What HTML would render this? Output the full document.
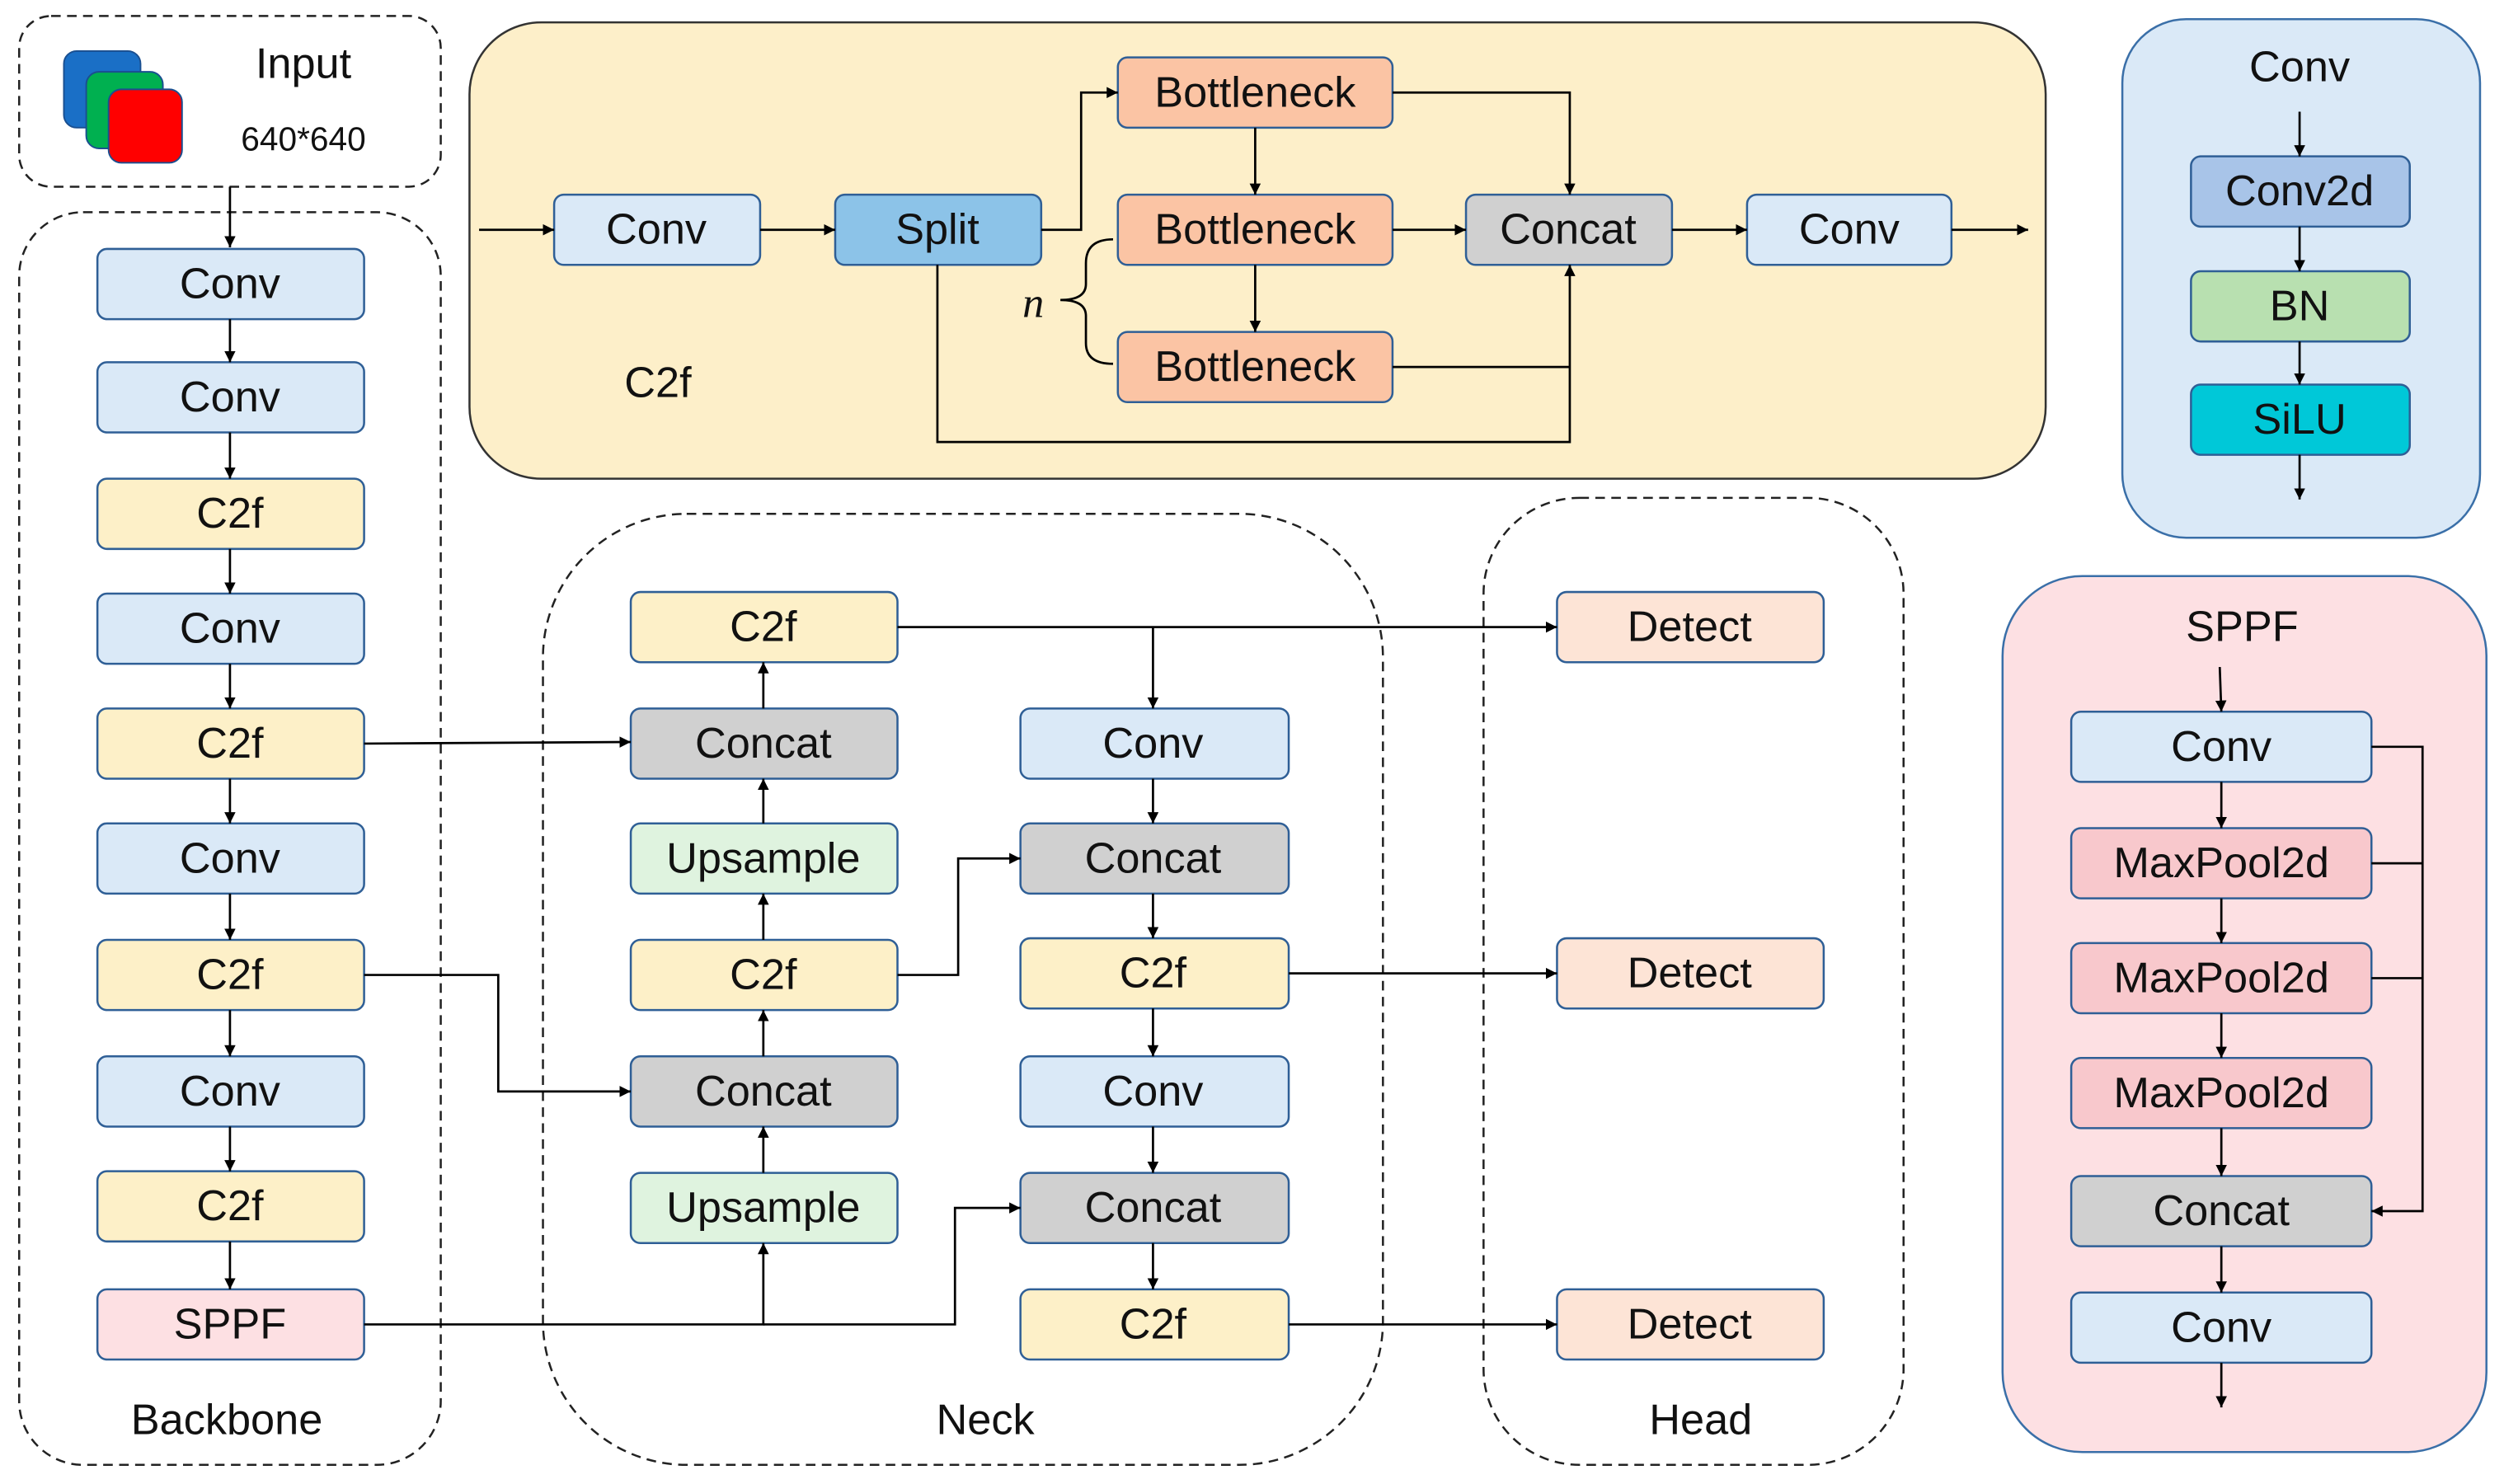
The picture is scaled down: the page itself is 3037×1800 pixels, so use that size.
<!DOCTYPE html>
<html><head><meta charset="utf-8"><style>html,body{margin:0;padding:0;background:#fff}svg{display:block}</style></head>
<body>
<svg width="3037" height="1800" viewBox="0 0 1568 930" preserveAspectRatio="none" xmlns="http://www.w3.org/2000/svg" font-family="Liberation Sans, sans-serif">
<defs>
<marker id="a" viewBox="0 0 10 10" refX="10" refY="5" markerWidth="7" markerHeight="7" orient="auto-start-reverse" markerUnits="userSpaceOnUse"><path d="M0,0L10,5L0,10z" fill="#000"/></marker>
</defs>
<style>
.b{stroke:#2f5f96;stroke-width:1.3}
.t{font-size:27px;text-anchor:middle;dominant-baseline:central;fill:#111}
.l{stroke:#000;stroke-width:1.4;fill:none}
.d{stroke:#222;stroke-width:1.3;fill:none;stroke-dasharray:6 4}
</style>
<!-- dashed groups -->
<rect x="12" y="10" width="264" height="107" rx="20" class="d"/>
<rect x="12" y="133" width="264" height="785" rx="40" class="d"/>
<rect x="340" y="322" width="526" height="596" rx="90" class="d"/>
<rect x="929" y="312" width="263" height="606" rx="60" class="d"/>
<!-- input -->
<rect x="40" y="32" width="48" height="48" rx="8" fill="#1a6fc6" stroke="#1a4f90"/>
<rect x="54" y="45" width="48" height="48" rx="8" fill="#00b050" stroke="#1a4f90"/>
<rect x="68" y="56" width="46" height="46" rx="8" fill="#ff0000" stroke="#1a4f90"/>
<text x="190" y="40" class="t" font-size="28">Input</text>
<text x="190" y="87" class="t" style="font-size:21px">640*640</text>
<line x1="144" y1="117" x2="144" y2="155" class="l" marker-end="url(#a)"/>
<!-- backbone -->
<g>
<rect x="61" y="156" width="167" height="44" rx="6" fill="#dae9f7" class="b"/><text x="144" y="178" class="t">Conv</text>
<rect x="61" y="227" width="167" height="44" rx="6" fill="#dae9f7" class="b"/><text x="144" y="249" class="t">Conv</text>
<rect x="61" y="300" width="167" height="44" rx="6" fill="#fdf0c8" class="b"/><text x="144" y="322" class="t">C2f</text>
<rect x="61" y="372" width="167" height="44" rx="6" fill="#dae9f7" class="b"/><text x="144" y="394" class="t">Conv</text>
<rect x="61" y="444" width="167" height="44" rx="6" fill="#fdf0c8" class="b"/><text x="144" y="466" class="t">C2f</text>
<rect x="61" y="516" width="167" height="44" rx="6" fill="#dae9f7" class="b"/><text x="144" y="538" class="t">Conv</text>
<rect x="61" y="589" width="167" height="44" rx="6" fill="#fdf0c8" class="b"/><text x="144" y="611" class="t">C2f</text>
<rect x="61" y="662" width="167" height="44" rx="6" fill="#dae9f7" class="b"/><text x="144" y="684" class="t">Conv</text>
<rect x="61" y="734" width="167" height="44" rx="6" fill="#fdf0c8" class="b"/><text x="144" y="756" class="t">C2f</text>
<rect x="61" y="808" width="167" height="44" rx="6" fill="#fde0e3" class="b"/><text x="144" y="830" class="t">SPPF</text>
<line x1="144" y1="200" x2="144" y2="227" class="l" marker-end="url(#a)"/>
<line x1="144" y1="271" x2="144" y2="300" class="l" marker-end="url(#a)"/>
<line x1="144" y1="344" x2="144" y2="372" class="l" marker-end="url(#a)"/>
<line x1="144" y1="416" x2="144" y2="444" class="l" marker-end="url(#a)"/>
<line x1="144" y1="488" x2="144" y2="516" class="l" marker-end="url(#a)"/>
<line x1="144" y1="560" x2="144" y2="589" class="l" marker-end="url(#a)"/>
<line x1="144" y1="633" x2="144" y2="662" class="l" marker-end="url(#a)"/>
<line x1="144" y1="706" x2="144" y2="734" class="l" marker-end="url(#a)"/>
<line x1="144" y1="778" x2="144" y2="808" class="l" marker-end="url(#a)"/>
<text x="142" y="890" class="t">Backbone</text>
</g>
<!-- neck -->
<rect x="395" y="371" width="167" height="44" rx="6" fill="#fdf0c8" class="b"/><text x="478" y="393" class="t">C2f</text>
<rect x="395" y="444" width="167" height="44" rx="6" fill="#d0d0d0" class="b"/><text x="478" y="466" class="t">Concat</text>
<rect x="395" y="516" width="167" height="44" rx="6" fill="#dff3df" class="b"/><text x="478" y="538" class="t">Upsample</text>
<rect x="395" y="589" width="167" height="44" rx="6" fill="#fdf0c8" class="b"/><text x="478" y="611" class="t">C2f</text>
<rect x="395" y="662" width="167" height="44" rx="6" fill="#d0d0d0" class="b"/><text x="478" y="684" class="t">Concat</text>
<rect x="395" y="735" width="167" height="44" rx="6" fill="#dff3df" class="b"/><text x="478" y="757" class="t">Upsample</text>
<rect x="639" y="444" width="168" height="44" rx="6" fill="#dae9f7" class="b"/><text x="722" y="466" class="t">Conv</text>
<rect x="639" y="516" width="168" height="44" rx="6" fill="#d0d0d0" class="b"/><text x="722" y="538" class="t">Concat</text>
<rect x="639" y="588" width="168" height="44" rx="6" fill="#fdf0c8" class="b"/><text x="722" y="610" class="t">C2f</text>
<rect x="639" y="662" width="168" height="44" rx="6" fill="#dae9f7" class="b"/><text x="722" y="684" class="t">Conv</text>
<rect x="639" y="735" width="168" height="44" rx="6" fill="#d0d0d0" class="b"/><text x="722" y="757" class="t">Concat</text>
<rect x="639" y="808" width="168" height="44" rx="6" fill="#fdf0c8" class="b"/><text x="722" y="830" class="t">C2f</text>
<text x="617" y="890" class="t">Neck</text>
<rect x="975" y="371" width="167" height="44" rx="6" fill="#fde4d6" class="b"/><text x="1058" y="393" class="t">Detect</text>
<rect x="975" y="588" width="167" height="44" rx="6" fill="#fde4d6" class="b"/><text x="1058" y="610" class="t">Detect</text>
<rect x="975" y="808" width="167" height="44" rx="6" fill="#fde4d6" class="b"/><text x="1058" y="830" class="t">Detect</text>
<text x="1065" y="890" class="t">Head</text>
<!-- neck arrows -->
<line x1="228" y1="466" x2="395" y2="465" class="l" marker-end="url(#a)"/>
<polyline points="228,611 312,611 312,684 395,684" class="l" marker-end="url(#a)"/>
<polyline points="228,830 478,830 478,779" class="l" marker-end="url(#a)"/>
<polyline points="478,830 598,830 598,757 639,757" class="l" marker-end="url(#a)"/>
<line x1="478" y1="735" x2="478" y2="706" class="l" marker-end="url(#a)"/>
<line x1="478" y1="662" x2="478" y2="633" class="l" marker-end="url(#a)"/>
<line x1="478" y1="589" x2="478" y2="560" class="l" marker-end="url(#a)"/>
<line x1="478" y1="516" x2="478" y2="488" class="l" marker-end="url(#a)"/>
<line x1="478" y1="444" x2="478" y2="415" class="l" marker-end="url(#a)"/>
<polyline points="562,611 600,611 600,538 639,538" class="l" marker-end="url(#a)"/>
<line x1="562" y1="393" x2="975" y2="393" class="l" marker-end="url(#a)"/>
<line x1="722" y1="393" x2="722" y2="444" class="l" marker-end="url(#a)"/>
<line x1="722" y1="488" x2="722" y2="516" class="l" marker-end="url(#a)"/>
<line x1="722" y1="560" x2="722" y2="588" class="l" marker-end="url(#a)"/>
<line x1="722" y1="632" x2="722" y2="662" class="l" marker-end="url(#a)"/>
<line x1="722" y1="706" x2="722" y2="735" class="l" marker-end="url(#a)"/>
<line x1="722" y1="779" x2="722" y2="808" class="l" marker-end="url(#a)"/>
<line x1="807" y1="610" x2="975" y2="610" class="l" marker-end="url(#a)"/>
<line x1="807" y1="830" x2="975" y2="830" class="l" marker-end="url(#a)"/>
<!-- C2f panel -->
<rect x="294" y="14" width="987" height="286" rx="45" fill="#fdefc9" stroke="#333" stroke-width="1.3"/>
<rect x="347" y="122" width="129" height="44" rx="6" fill="#dae9f7" class="b"/><text x="411" y="144" class="t">Conv</text>
<rect x="523" y="122" width="129" height="44" rx="6" fill="#8cc3e8" class="b"/><text x="587" y="144" class="t">Split</text>
<rect x="700" y="36" width="172" height="44" rx="6" fill="#fbc4a4" class="b"/><text x="786" y="58" class="t">Bottleneck</text>
<rect x="700" y="122" width="172" height="44" rx="6" fill="#fbc4a4" class="b"/><text x="786" y="144" class="t">Bottleneck</text>
<rect x="700" y="208" width="172" height="44" rx="6" fill="#fbc4a4" class="b"/><text x="786" y="230" class="t">Bottleneck</text>
<rect x="918" y="122" width="129" height="44" rx="6" fill="#d0d0d0" class="b"/><text x="982" y="144" class="t">Concat</text>
<rect x="1094" y="122" width="128" height="44" rx="6" fill="#dae9f7" class="b"/><text x="1158" y="144" class="t">Conv</text>
<text x="412" y="240" class="t">C2f</text>
<line x1="300" y1="144" x2="347" y2="144" class="l" marker-end="url(#a)"/>
<line x1="476" y1="144" x2="523" y2="144" class="l" marker-end="url(#a)"/>
<polyline points="652,144 677,144 677,58 700,58" class="l" marker-end="url(#a)"/>
<polyline points="587,166 587,277 983,277 983,166" class="l" marker-end="url(#a)"/>
<polyline points="872,58 983,58 983,122" class="l" marker-end="url(#a)"/>
<line x1="872" y1="144" x2="918" y2="144" class="l" marker-end="url(#a)"/>
<polyline points="872,230 983,230" class="l"/>
<line x1="786" y1="80" x2="786" y2="122" class="l" marker-end="url(#a)"/>
<line x1="786" y1="166" x2="786" y2="208" class="l" marker-end="url(#a)"/>
<line x1="1047" y1="144" x2="1094" y2="144" class="l" marker-end="url(#a)"/>
<line x1="1222" y1="144" x2="1270" y2="144" class="l" marker-end="url(#a)"/>
<path d="M697,150 Q680,150 680,165 L680,178 Q680,188 664,188 Q680,188 680,198 L680,215 Q680,228 697,228" class="l"/>
<text x="647" y="190" class="t" font-family="Liberation Serif, serif" font-style="italic">n</text>
<!-- Conv panel -->
<rect x="1329" y="12" width="224" height="325" rx="40" fill="#dae9f7" stroke="#3a6fa8" stroke-width="1.3"/>
<text x="1440" y="42" class="t">Conv</text>
<rect x="1372" y="98" width="137" height="44" rx="6" fill="#a8c4e8" class="b"/><text x="1440" y="120" class="t">Conv2d</text>
<rect x="1372" y="170" width="137" height="44" rx="6" fill="#b8e0b0" class="b"/><text x="1440" y="192" class="t">BN</text>
<rect x="1372" y="241" width="137" height="44" rx="6" fill="#00c8d8" class="b"/><text x="1440" y="263" class="t">SiLU</text>
<line x1="1440" y1="70" x2="1440" y2="98" class="l" marker-end="url(#a)"/>
<line x1="1440" y1="142" x2="1440" y2="170" class="l" marker-end="url(#a)"/>
<line x1="1440" y1="214" x2="1440" y2="241" class="l" marker-end="url(#a)"/>
<line x1="1440" y1="285" x2="1440" y2="313" class="l" marker-end="url(#a)"/>
<!-- SPPF panel -->
<rect x="1254" y="361" width="303" height="549" rx="50" fill="#fde0e3" stroke="#3a6fa8" stroke-width="1.3"/>
<text x="1404" y="393" class="t">SPPF</text>
<rect x="1297" y="446" width="188" height="44" rx="6" fill="#dae9f7" class="b"/><text x="1391" y="468" class="t">Conv</text>
<rect x="1297" y="519" width="188" height="44" rx="6" fill="#f8c8cc" class="b"/><text x="1391" y="541" class="t">MaxPool2d</text>
<rect x="1297" y="591" width="188" height="44" rx="6" fill="#f8c8cc" class="b"/><text x="1391" y="613" class="t">MaxPool2d</text>
<rect x="1297" y="663" width="188" height="44" rx="6" fill="#f8c8cc" class="b"/><text x="1391" y="685" class="t">MaxPool2d</text>
<rect x="1297" y="737" width="188" height="44" rx="6" fill="#d0d0d0" class="b"/><text x="1391" y="759" class="t">Concat</text>
<rect x="1297" y="810" width="188" height="44" rx="6" fill="#dae9f7" class="b"/><text x="1391" y="832" class="t">Conv</text>
<line x1="1390" y1="418" x2="1391" y2="446" class="l" marker-end="url(#a)"/>
<line x1="1391" y1="490" x2="1391" y2="519" class="l" marker-end="url(#a)"/>
<line x1="1391" y1="563" x2="1391" y2="591" class="l" marker-end="url(#a)"/>
<line x1="1391" y1="635" x2="1391" y2="663" class="l" marker-end="url(#a)"/>
<line x1="1391" y1="707" x2="1391" y2="737" class="l" marker-end="url(#a)"/>
<line x1="1391" y1="781" x2="1391" y2="810" class="l" marker-end="url(#a)"/>
<line x1="1391" y1="854" x2="1391" y2="882" class="l" marker-end="url(#a)"/>
<polyline points="1485,468 1517,468 1517,759 1485,759" class="l" marker-end="url(#a)"/>
<line x1="1485" y1="541" x2="1517" y2="541" class="l"/>
<line x1="1485" y1="613" x2="1517" y2="613" class="l"/>
</svg>
</body></html>
